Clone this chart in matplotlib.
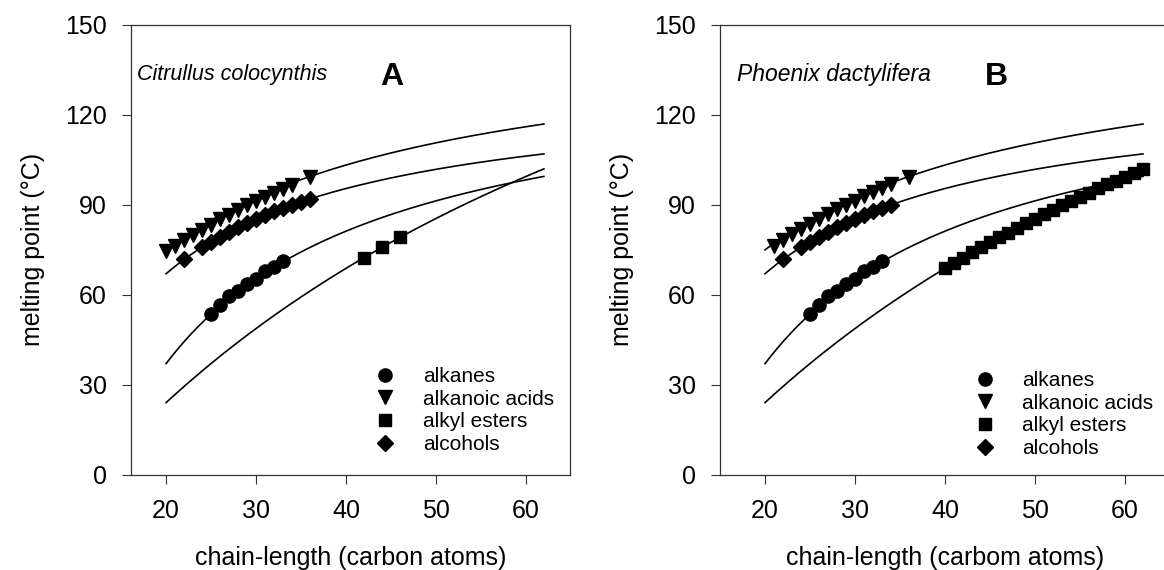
import matplotlib
matplotlib.use("Agg")
import matplotlib.pyplot as plt
from matplotlib.lines import Line2D
import numpy as np

plt.rcParams['font.family'] = ['Liberation Sans', 'DejaVu Sans']

# ---- Panel A: Citrullus colocynthis ----
a_alkane_n = [25, 26, 27, 28, 29, 30, 31, 32, 33]
a_alkane_mp = [53.5, 56.4, 59.5, 61.4, 63.7, 65.4, 67.9, 69.4, 71.1]

a_acid_n = [20, 21, 22, 23, 24, 25, 26, 27, 28, 29, 30, 31, 32, 33, 34, 36]
a_acid_mp = [74.6, 76.3, 78.2, 79.9, 81.7, 83.4, 85.1, 86.7, 88.3, 89.8,
             91.3, 92.7, 94.1, 95.4, 96.7, 99.2]

a_ester_n = [42, 44, 46]
a_ester_mp = [72.4, 75.9, 79.1]

a_alcohol_n = [22, 24, 25, 26, 27, 28, 29, 30, 31, 32, 33, 34, 35, 36]
a_alcohol_mp = [71.8, 75.9, 77.7, 79.4, 81.0, 82.6, 84.0, 85.3, 86.6, 87.8,
                88.9, 90.0, 91.0, 92.0]

# ---- Panel B: Phoenix dactylifera ----
b_alkane_n = [25, 26, 27, 28, 29, 30, 31, 32, 33]
b_alkane_mp = [53.5, 56.4, 59.5, 61.4, 63.7, 65.4, 67.9, 69.4, 71.1]

b_acid_n = [21, 22, 23, 24, 25, 26, 27, 28, 29, 30, 31, 32, 33, 34, 36]
b_acid_mp = [76.4, 78.3, 80.1, 81.9, 83.6, 85.3, 86.9, 88.5, 90.0,
             91.4, 92.8, 94.2, 95.5, 96.8, 99.2]

b_ester_n = [40, 41, 42, 43, 44, 45, 46, 47, 48, 49, 50, 51, 52, 53, 54,
             55, 56, 57, 58, 59, 60, 61, 62]
b_ester_mp = [68.8, 70.6, 72.4, 74.1, 75.8, 77.5, 79.1, 80.7, 82.3, 83.9,
              85.4, 86.9, 88.4, 89.9, 91.3, 92.7, 94.1, 95.5, 96.8, 98.1,
              99.4, 100.7, 102.0]

b_alcohol_n = [22, 24, 25, 26, 27, 28, 29, 30, 31, 32, 33, 34]
b_alcohol_mp = [71.8, 75.9, 77.7, 79.4, 81.0, 82.6, 84.0, 85.3, 86.6, 87.8,
                88.9, 90.0]

# Reference melting-point curves, T = T_inf - K / (n + b), in degC
curve_range = (20, 62)
acid_curve = (149.9, 2468.5, 12.94)
alcohol_curve = (130.4, 1559.0, 4.585)
alkane_curve = (137.1, 2531.0, 5.28)
ester_curve = (263.0, 20722.0, 66.7)

labels = ["alkanes", "alkanoic acids", "alkyl esters", "alcohols"]
markers = ["o", "v", "s", "D"]
msizes = [9.5, 9.5, 8.5, 8.0]

x_ticks = [20, 30, 40, 50, 60]
y_ticks = [0, 30, 60, 90, 120, 150]

W, H = 1164, 570
fig = plt.figure(figsize=(W / 100, H / 100), dpi=100)


def draw_panel(ax, species, letter, series, xlim, title_xy, letter_xy,
               leg_anchor, title_size):
    n = np.linspace(curve_range[0], curve_range[1], 300)
    for (t_inf, k, b) in (acid_curve, alcohol_curve, alkane_curve, ester_curve):
        ax.plot(n, t_inf - k / (n + b), color="black", lw=1.2, zorder=2)
    for (xs, ys), m, ms in zip(series, markers, msizes):
        ax.plot(xs, ys, ls="none", marker=m, ms=ms, color="black",
                markeredgecolor="black", zorder=3)
    ax.set_xlim(*xlim)
    ax.set_ylim(0, 150)
    ax.set_xticks(x_ticks)
    ax.set_yticks(y_ticks)
    ax.tick_params(direction="out", length=6.5, width=0.8, labelsize=18,
                   pad=11, color="#333333")
    for s in ax.spines.values():
        s.set_linewidth(0.9)
        s.set_color("#333333")
    ax.set_ylabel("melting point (°C)", fontsize=18, labelpad=14)
    ax.text(*title_xy, species, transform=ax.transAxes, fontsize=title_size,
            style="italic", va="center", ha="left")
    ax.text(*letter_xy, letter, transform=ax.transAxes, fontsize=23,
            fontweight="bold", va="center", ha="left")
    handles = [Line2D([], [], ls="none", marker=m, ms=ms, color="black")
               for m, ms in zip(markers, msizes)]
    ax.legend(handles, labels, loc="upper left", bbox_to_anchor=leg_anchor,
              frameon=False, fontsize=15, handlelength=1.0, handletextpad=1.3,
              labelspacing=0.18, borderpad=0.4)


axA = fig.add_axes([131 / W, (H - 474.5) / H, (570 - 131) / W, 449.5 / H])
draw_panel(axA, "Citrullus colocynthis", "A",
           [(a_alkane_n, a_alkane_mp), (a_acid_n, a_acid_mp),
            (a_ester_n, a_ester_mp), (a_alcohol_n, a_alcohol_mp)],
           (16.1, 64.9), (0.014, 0.89), (0.568, 0.885), (0.513, 0.281), 15.5)
axA.set_xlabel("chain-length (carbon atoms)", fontsize=18, labelpad=17)

axB = fig.add_axes([720 / W, (H - 474.5) / H, 450 / W, 449.5 / H])
draw_panel(axB, "Phoenix dactylifera", "B",
           [(b_alkane_n, b_alkane_mp), (b_acid_n, b_acid_mp),
            (b_ester_n, b_ester_mp), (b_alcohol_n, b_alcohol_mp)],
           (15, 65), (0.038, 0.89), (0.588, 0.885), (0.523, 0.272), 16.5)
axB.set_xlabel("chain-length (carbom atoms)", fontsize=18, labelpad=17)

fig.savefig("out.png", dpi=100, facecolor="white")
